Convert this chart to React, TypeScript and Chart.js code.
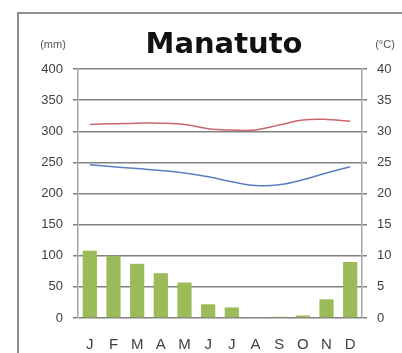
import React, { useEffect, useRef } from "react";
import { Chart, registerables } from "chart.js";

Chart.register(...registerables);

const months = ["J", "F", "M", "A", "M", "J", "J", "A", "S", "O", "N", "D"];
const precipitation = [108, 100, 87, 72, 57, 22, 17, 1, 2, 4, 30, 90];
const tempMax = [31.1, 31.2, 31.3, 31.3, 31.1, 30.4, 30.2, 30.2, 31.0, 31.8, 31.9, 31.6];
const tempMin = [24.6, 24.3, 24.0, 23.7, 23.3, 22.7, 21.9, 21.3, 21.4, 22.2, 23.3, 24.3];
const titleText = "Manatuto";
const leftUnit = "(mm)";
const rightUnit = "(°C)";

const tickColor = "#404040";
const gridColor = "#808080";
const borderColor = "#a5a5a5";

const textPlugin = {
  id: "climateTexts",
  afterDraw(chart: any) {
    const { ctx, chartArea } = chart;
    ctx.save();
    ctx.fillStyle = "#111111";
    ctx.textAlign = "center";
    ctx.textBaseline = "alphabetic";
    ctx.font = 'bold 29px "DejaVu Sans"';
    ctx.fillText(titleText, (chartArea.left + chartArea.right) / 2 + 4, chartArea.top - 16);
    ctx.fillStyle = "#555555";
    ctx.font = '11px "Liberation Sans"';
    ctx.textBaseline = "middle";
    ctx.fillText(leftUnit, chartArea.left - 25, chartArea.top - 24);
    ctx.fillText(rightUnit, chartArea.right + 23, chartArea.top - 24);
    ctx.restore();
  },
};

export default function App() {
  const ref = useRef<HTMLCanvasElement | null>(null);

  useEffect(() => {
    if (!ref.current) return;
    const chart = new Chart(ref.current, {
      type: "bar",
      data: {
        labels: months,
        datasets: [
          {
            type: "line",
            data: tempMax,
            yAxisID: "y1",
            borderColor: "#c9676a",
            borderWidth: 1.5,
            pointRadius: 0,
            tension: 0.4,
            fill: false,
          } as any,
          {
            type: "line",
            data: tempMin,
            yAxisID: "y1",
            borderColor: "#5b7ec0",
            borderWidth: 1.5,
            pointRadius: 0,
            tension: 0.4,
            fill: false,
          } as any,
          {
            type: "bar",
            data: precipitation,
            yAxisID: "y",
            backgroundColor: "#9bbb59",
            barPercentage: 0.6,
            categoryPercentage: 1,
          },
        ],
      },
      options: {
        animation: false,
        responsive: false,
        maintainAspectRatio: false,
        layout: { padding: { top: 69, left: 0, right: 0, bottom: 0 } },
        plugins: {
          legend: { display: false },
          tooltip: { enabled: false },
          title: { display: false },
        },
        scales: {
          x: {
            grid: { display: false, drawTicks: false },
            border: { display: false },
            ticks: {
              color: tickColor,
              font: { family: "Liberation Sans", size: 15 },
              padding: 18,
              maxRotation: 0,
              autoSkip: false,
            },
            afterFit: (s: any) => {
              s.height = 35;
            },
          },
          y: {
            position: "left",
            min: 0,
            max: 400,
            ticks: {
              stepSize: 50,
              padding: 10,
              color: tickColor,
              font: { family: "Liberation Sans", size: 13 },
            },
            grid: { color: gridColor, lineWidth: 1.5, tickLength: 5 },
            border: { display: true, color: borderColor, width: 1.5 },
            afterFit: (s: any) => {
              s.width = 78;
            },
          },
          y1: {
            position: "right",
            min: 0,
            max: 40,
            ticks: {
              stepSize: 5,
              padding: 10,
              color: tickColor,
              font: { family: "Liberation Sans", size: 13 },
            },
            grid: { drawOnChartArea: false, color: gridColor, lineWidth: 1.5, tickLength: 5 },
            border: { display: true, color: borderColor, width: 1.5 },
            afterFit: (s: any) => {
              s.width = 40;
            },
          },
        },
      },
      plugins: [textPlugin],
    } as any);
    return () => chart.destroy();
  }, []);

  return (
    <div
      style={{
        position: "absolute",
        left: 0,
        top: 0,
        width: 402,
        height: 353,
        background: "#ffffff",
        overflow: "hidden",
      }}
    >
      <div
        style={{
          position: "absolute",
          left: 17,
          top: 12,
          width: 400,
          height: 360,
          borderLeft: "2px solid #8f8f8f",
          borderTop: "2px solid #8f8f8f",
        }}
      />
      <canvas
        ref={ref}
        width={402}
        height={353}
        style={{ position: "absolute", left: 0, top: 0, width: 402, height: 353 }}
      />
    </div>
  );
}
